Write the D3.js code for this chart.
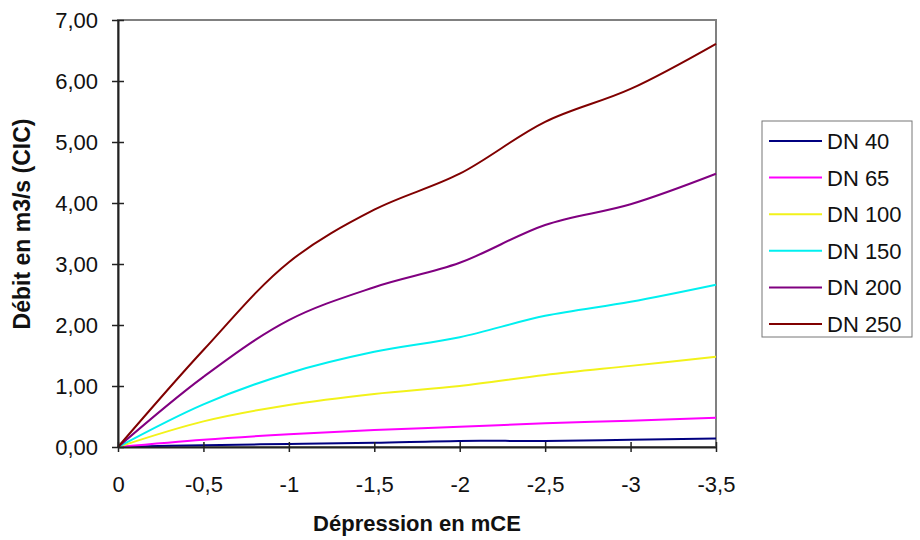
<!DOCTYPE html>
<html>
<head>
<meta charset="utf-8">
<script src="https://cdn.jsdelivr.net/npm/d3@7"></script>
<style>
  body { margin: 0; background: #fff; }
  text { font-family: "Liberation Sans", Arial, sans-serif; }
</style>
</head>
<body>
<svg id="chart"></svg>
<script>
var depression = [0, -0.5, -1, -1.5, -2, -2.5, -3, -3.5]
var seriesNames = ["DN 40", "DN 65", "DN 100", "DN 150", "DN 200", "DN 250"]
var dn40  = [0, 0.03, 0.05, 0.07, 0.10, 0.10, 0.12, 0.14]
var dn65  = [0, 0.12, 0.21, 0.28, 0.33, 0.39, 0.43, 0.48]
var dn100 = [0, 0.42, 0.69, 0.87, 1.00, 1.18, 1.33, 1.48]
var dn150 = [0, 0.70, 1.21, 1.56, 1.80, 2.15, 2.38, 2.66]
var dn200 = [0, 1.15, 2.08, 2.62, 3.02, 3.64, 3.98, 4.48]
var dn250 = [0, 1.59, 3.03, 3.89, 4.48, 5.33, 5.87, 6.61]
var xTicks = [0, -0.5, -1, -1.5, -2, -2.5, -3, -3.5]
var yTicks = [0, 1, 2, 3, 4, 5, 6, 7]

var colors = ["#000080", "#ff00ff", "#f2f21a", "#00f0f0", "#800080", "#800000"]
var allSeries = [dn40, dn65, dn100, dn150, dn200, dn250]

var width = 920, height = 540
var margins = {left: 118, top: 20, right: 204, bottom: 93}
var innerW = width - margins.left - margins.right
var innerH = height - margins.top - margins.bottom

var svg = d3.select("svg#chart")
    .attr("width", width)
    .attr("height", height)

var g = svg.append("g")
    .attr("transform", "translate(" + margins.left + "," + margins.top + ")")

var xScale = d3.scaleLinear().domain([0, -3.5]).range([0, innerW])
var yScale = d3.scaleLinear().domain([0, 7]).range([innerH, 0])

var fmtY = function(d) { return d3.format(".2f")(d).replace(".", ",") }
var fmtX = function(d) { return String(d).replace(".", ",") }

// plot border (grey top/right)
g.append("rect")
    .attr("x", 0).attr("y", 0)
    .attr("width", innerW).attr("height", innerH)
    .attr("fill", "none")
    .attr("stroke", "#808080")
    .attr("stroke-width", 2)

// series
var line = d3.line()
    .x(function(d, i) { return xScale(depression[i]) })
    .y(function(d) { return yScale(d) })
    .curve(d3.curveCatmullRom.alpha(0.5))

allSeries.forEach(function(s, i) {
    g.append("path")
        .datum(s)
        .attr("fill", "none")
        .attr("stroke", colors[i])
        .attr("stroke-width", 2)
        .attr("d", line)
})

// axes
var xAxis = g.append("g")
    .attr("transform", "translate(0," + innerH + ")")
    .call(d3.axisBottom(xScale).tickValues(xTicks).tickFormat(fmtX).tickSize(5).tickSizeOuter(0))
xAxis.select(".domain").attr("stroke", "#222").attr("stroke-width", 2)
xAxis.selectAll(".tick line").attr("y1", -5).attr("y2", 5).attr("stroke", "#222").attr("stroke-width", 1.5)
xAxis.selectAll(".tick text")
    .attr("y", 29)
    .attr("font-size", "22px")
    .attr("fill", "#111")
    .attr("font-family", "Liberation Sans, Arial, sans-serif")

var yAxis = g.append("g")
    .call(d3.axisLeft(yScale).tickValues(yTicks).tickFormat(fmtY).tickSize(6).tickSizeOuter(0))
yAxis.select(".domain").attr("stroke", "#222").attr("stroke-width", 2)
yAxis.selectAll(".tick line").attr("x1", -6).attr("x2", 6).attr("stroke", "#222").attr("stroke-width", 1.5)
yAxis.selectAll(".tick text")
    .attr("x", -20)
    .attr("font-size", "22px")
    .attr("fill", "#111")
    .attr("font-family", "Liberation Sans, Arial, sans-serif")

// axis titles
svg.append("text")
    .attr("x", margins.left + innerW / 2)
    .attr("y", 531)
    .attr("text-anchor", "middle")
    .attr("font-size", "22px")
    .attr("font-weight", "bold")
    .attr("fill", "#111")
    .text("Dépression en mCE")

svg.append("text")
    .attr("transform", "translate(30,224) rotate(-90)")
    .attr("text-anchor", "middle")
    .attr("font-size", "23px")
    .attr("font-weight", "bold")
    .attr("fill", "#111")
    .text("Débit en m3/s (CIC)")

// legend
var legend = svg.append("g").attr("transform", "translate(762,121)")
legend.append("rect")
    .attr("width", 150).attr("height", 216)
    .attr("fill", "none")
    .attr("stroke", "#777")
    .attr("stroke-width", 1)

seriesNames.forEach(function(name, i) {
    var yy = 20 + i * 36.6
    legend.append("line")
        .attr("x1", 7).attr("x2", 60)
        .attr("y1", yy).attr("y2", yy)
        .attr("stroke", colors[i])
        .attr("stroke-width", 2)
    legend.append("text")
        .attr("x", 65)
        .attr("y", yy + 8)
        .attr("font-size", "22px")
        .attr("fill", "#111")
        .text(name)
})
</script>
</body>
</html>
